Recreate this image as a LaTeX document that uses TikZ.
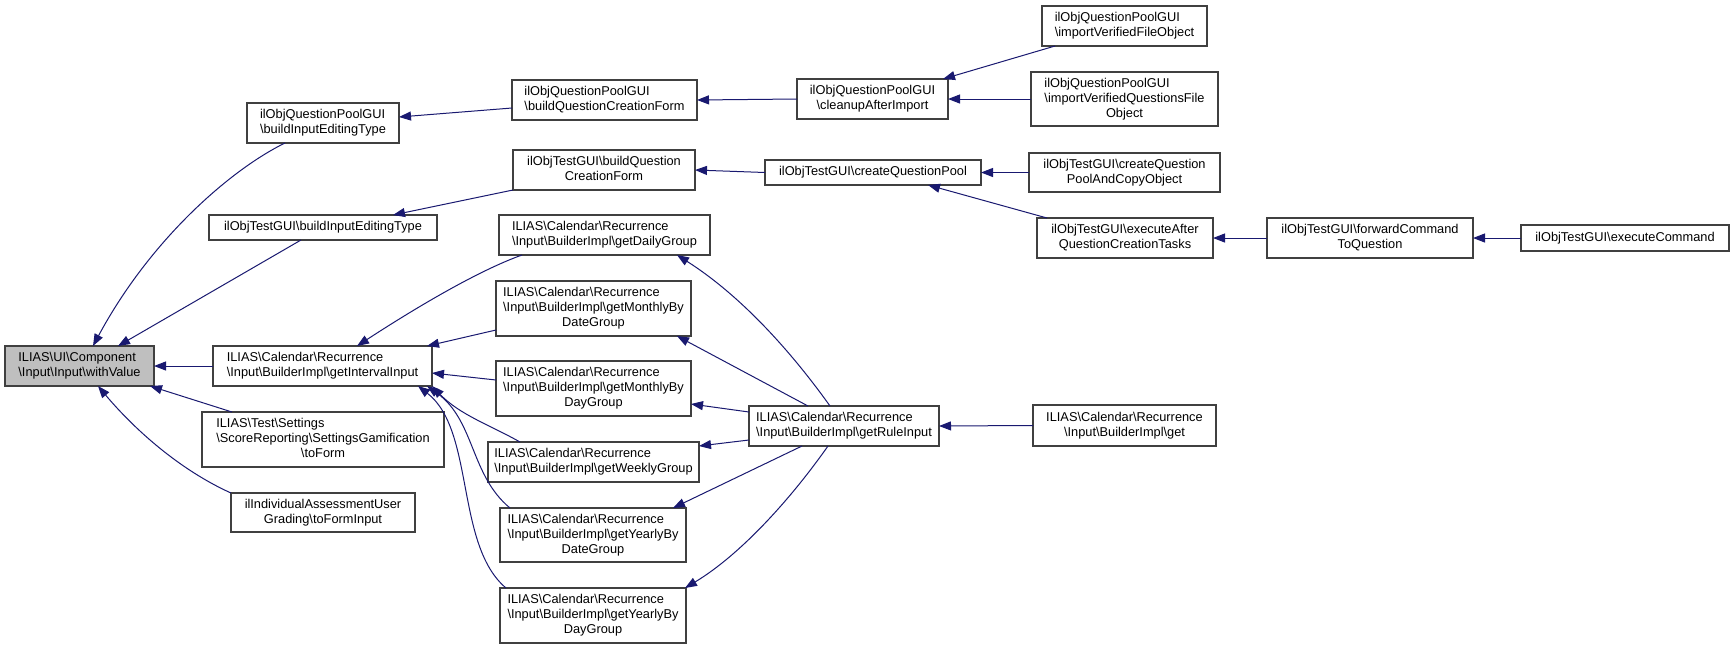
\documentclass[tikz,border=0pt]{standalone}
\usepackage{fontspec}
\setmainfont{Liberation Sans}
\usetikzlibrary{arrows.meta,calc}
\definecolor{edgeblue}{RGB}{25,25,112}
\definecolor{boxline}{RGB}{64,64,64}
\definecolor{hilite}{RGB}{191,191,191}
\newcommand\bs{\textbackslash}
\newcommand\lblii[2]{\begin{tabular}{@{}l@{}}#1\\\multicolumn{1}{@{}c@{}}{#2}\end{tabular}}
\newcommand\lbliii[3]{\begin{tabular}{@{}l@{}}#1\\#2\\\multicolumn{1}{@{}c@{}}{#3}\end{tabular}}
\begin{document}
\begin{tikzpicture}[x=1pt,y=-1pt,
  fn/.style={draw=boxline, line width=1.2pt, fill=white, inner sep=0pt, outer sep=0pt,
    font=\fontsize{12.8}{15}\selectfont, align=center},
  edge/.style={draw=edgeblue, line width=1pt, -{Triangle[length=12pt,width=9pt]}}]
\useasboundingbox[fill=white] (0,0) rectangle (1735,649);
% nodes
\node[fn, fill=hilite, minimum width=149, minimum height=40] (A) at (79.5,366) {\lblii{ILIAS\bs{}UI\bs{}Component}{\bs{}Input\bs{}Input\bs{}withValue}};
\node[fn, minimum width=152, minimum height=40] (B) at (323,123) {\lblii{ilObjQuestionPoolGUI}{\bs{}buildInputEditingType}};
\node[fn, minimum width=228, minimum height=25] (C) at (323,227.5) {ilObjTestGUI\bs{}buildInputEditingType};
\node[fn, minimum width=219, minimum height=40] (D) at (322.5,366) {\lblii{ILIAS\bs{}Calendar\bs{}Recurrence}{\bs{}Input\bs{}BuilderImpl\bs{}getIntervalInput}};
\node[fn, minimum width=242, minimum height=55] (E) at (323,439.5) {\lbliii{ILIAS\bs{}Test\bs{}Settings}{\bs{}ScoreReporting\bs{}SettingsGamification}{\bs{}toForm}};
\node[fn, minimum width=184, minimum height=39] (F) at (323,512.5) {\lblii{ilIndividualAssessmentUser}{Grading\bs{}toFormInput}};
\node[fn, minimum width=185, minimum height=40] (G) at (604.5,100) {\lblii{ilObjQuestionPoolGUI}{\bs{}buildQuestionCreationForm}};
\node[fn, minimum width=182, minimum height=40] (H) at (604,170) {\lblii{ilObjTestGUI\bs{}buildQuestion}{CreationForm}};
\node[fn, minimum width=211, minimum height=40] (I) at (604.5,235) {\lblii{ILIAS\bs{}Calendar\bs{}Recurrence}{\bs{}Input\bs{}BuilderImpl\bs{}getDailyGroup}};
\node[fn, minimum width=195, minimum height=55] (J) at (593.5,308.5) {\lbliii{ILIAS\bs{}Calendar\bs{}Recurrence}{\bs{}Input\bs{}BuilderImpl\bs{}getMonthlyBy}{DateGroup}};
\node[fn, minimum width=195, minimum height=55] (K) at (593.5,388.5) {\lbliii{ILIAS\bs{}Calendar\bs{}Recurrence}{\bs{}Input\bs{}BuilderImpl\bs{}getMonthlyBy}{DayGroup}};
\node[fn, minimum width=211, minimum height=40] (L) at (593.5,462) {\lblii{ILIAS\bs{}Calendar\bs{}Recurrence}{\bs{}Input\bs{}BuilderImpl\bs{}getWeeklyGroup}};
\node[fn, minimum width=186, minimum height=54] (M) at (593,535) {\lbliii{ILIAS\bs{}Calendar\bs{}Recurrence}{\bs{}Input\bs{}BuilderImpl\bs{}getYearlyBy}{DateGroup}};
\node[fn, minimum width=186, minimum height=55] (N) at (593,615.5) {\lbliii{ILIAS\bs{}Calendar\bs{}Recurrence}{\bs{}Input\bs{}BuilderImpl\bs{}getYearlyBy}{DayGroup}};
\node[fn, minimum width=151, minimum height=40] (O) at (872.5,99) {\lblii{ilObjQuestionPoolGUI}{\bs{}cleanupAfterImport}};
\node[fn, minimum width=216, minimum height=25] (P) at (873,172.5) {ilObjTestGUI\bs{}createQuestionPool};
\node[fn, minimum width=190, minimum height=40] (Q) at (844,426) {\lblii{ILIAS\bs{}Calendar\bs{}Recurrence}{\bs{}Input\bs{}BuilderImpl\bs{}getRuleInput}};
\node[fn, minimum width=165, minimum height=40] (R) at (1124.5,26) {\lblii{ilObjQuestionPoolGUI}{\bs{}importVerifiedFileObject}};
\node[fn, minimum width=187, minimum height=54] (S) at (1124.5,99) {\lbliii{ilObjQuestionPoolGUI}{\bs{}importVerifiedQuestionsFile}{Object}};
\node[fn, minimum width=191, minimum height=39] (T) at (1124.5,172.5) {\lblii{ilObjTestGUI\bs{}createQuestion}{PoolAndCopyObject}};
\node[fn, minimum width=176, minimum height=40] (U) at (1125,238) {\lblii{ilObjTestGUI\bs{}executeAfter}{QuestionCreationTasks}};
\node[fn, minimum width=206, minimum height=40] (V) at (1370,238) {\lblii{ilObjTestGUI\bs{}forwardCommand}{ToQuestion}};
\node[fn, minimum width=208, minimum height=26] (W) at (1625,238) {ilObjTestGUI\bs{}executeCommand};
\node[fn, minimum width=183, minimum height=41] (X) at (1124.5,425.5) {\lblii{ILIAS\bs{}Calendar\bs{}Recurrence}{\bs{}Input\bs{}BuilderImpl\bs{}get}};
% edges
\draw[edge] ($(B.south west)+(38,0)$) .. controls +(-55,27) and +(57,-106) .. ($(A.north west)+(88,0)$);
\draw[edge] ($(C.south west)+(92,0)$) -- ($(A.north west)+(113,0)$);
\draw[edge] (D.west) -- (A.east);
\draw[edge] ($(E.north west)+(30,0)$) -- ($(A.south west)+(145,0)$);
\draw[edge] (F.north west) .. controls +(-51,-23) and +(37,44) .. ($(A.south west)+(93,0)$);
\draw[edge] ($(G.north west)+(0,28)$) -- ($(B.north east)+(0,14)$);
\draw[edge] (H.south west) -- ($(C.north west)+(184,0)$);
\draw[edge] ($(I.south west)+(23,0)$) .. controls +(-42,15) and +(63,-41) .. ($(D.north west)+(144,0)$);
\draw[edge] ($(J.north west)+(0,49)$) -- ($(D.north east)+(-5,0)$);
\draw[edge] ($(K.north west)+(0,19)$) -- ($(D.north east)+(0,27)$);
\draw[edge] ($(L.north west)+(32,0)$) .. controls +(-30,-17) and +(28,29) .. (D.south east);
\draw[edge] ($(M.north west)+(10,0)$) .. controls +(-40,-33) and +(48,34) .. ($(D.south west)+(214,0)$);
\draw[edge] ($(N.north west)+(6,0)$) .. controls +(-51,-43) and +(57,44) .. ($(D.south west)+(205,0)$);
\draw[edge] (O.west) -- (G.east);
\draw[edge] (P.west) -- (H.east);
\draw[edge] ($(Q.north west)+(81,0)$) .. controls +(-40,-56) and +(63,40) .. ($(I.south west)+(178,0)$);
\draw[edge] ($(Q.north west)+(59,0)$) -- ($(J.south west)+(181,0)$);
\draw[edge] ($(Q.north west)+(0,6)$) -- ($(K.north east)+(0,43)$);
\draw[edge] ($(Q.north west)+(0,34)$) -- ($(L.north east)+(0,4)$);
\draw[edge] ($(Q.south west)+(53,0)$) -- ($(M.north east)+(-13,0)$);
\draw[edge] ($(Q.south west)+(79,0)$) .. controls +(-38,54) and +(55,-33) .. ($(N.north east)+(-1,0)$);
\draw[edge] ($(R.south west)+(13,0)$) -- ($(O.north east)+(-5,0)$);
\draw[edge] (S.west) -- (O.east);
\draw[edge] (T.west) -- (P.east);
\draw[edge] ($(U.north west)+(10,0)$) -- ($(P.south west)+(163,0)$);
\draw[edge] (V.west) -- (U.east);
\draw[edge] (W.west) -- (V.east);
\draw[edge] (X.west) -- (Q.east);
\end{tikzpicture}
\end{document}
